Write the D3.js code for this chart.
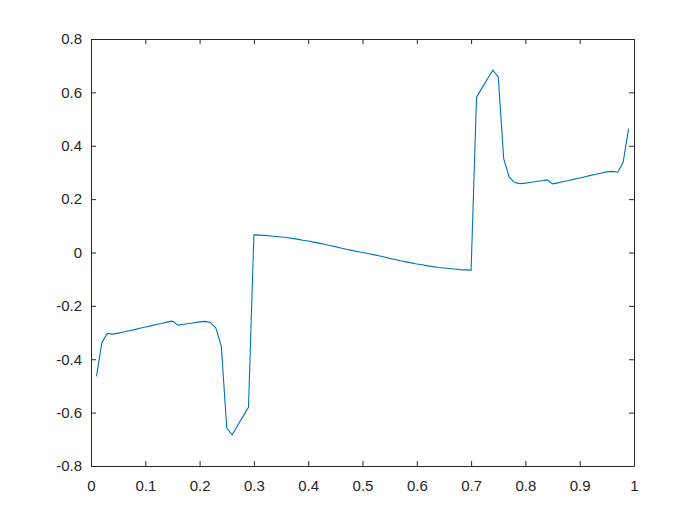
<!DOCTYPE html>
<html>
<head>
<meta charset="utf-8">
<script src="https://cdn.jsdelivr.net/npm/d3@7"></script>
<style>
  body { margin: 0; background: #fff; }
  svg { display: block; }
  .tick text { font-family: "Liberation Sans", Arial, sans-serif; font-size: 15px; fill: #262626; }
</style>
</head>
<body>
<script>
// data
var xs = [0.01,0.02,0.03,0.04,0.05,0.06,0.07,0.08,0.09,0.10,
          0.11,0.12,0.13,0.14,0.15,0.16,0.17,0.18,0.19,0.20,
          0.21,0.22,0.23,0.24,0.25,0.26,0.27,0.28,0.29,0.30,
          0.31,0.32,0.33,0.34,0.35,0.36,0.37,0.38,0.39,0.40,
          0.41,0.42,0.43,0.44,0.45,0.46,0.47,0.48,0.49,0.50,
          0.51,0.52,0.53,0.54,0.55,0.56,0.57,0.58,0.59,0.60,
          0.61,0.62,0.63,0.64,0.65,0.66,0.67,0.68,0.69,0.70,
          0.71,0.72,0.73,0.74,0.75,0.76,0.77,0.78,0.79,0.80,
          0.81,0.82,0.83,0.84,0.85,0.86,0.87,0.88,0.89,0.90,
          0.91,0.92,0.93,0.94,0.95,0.96,0.97,0.98,0.99];
var ys = [-0.464,-0.338,-0.303,-0.306,-0.302,-0.298,-0.293,-0.289,-0.284,-0.279,
          -0.275,-0.270,-0.266,-0.261,-0.257,-0.272,-0.269,-0.266,-0.263,-0.260,
          -0.258,-0.262,-0.283,-0.352,-0.658,-0.683,-0.648,-0.614,-0.580,0.066,
          0.065,0.064,0.062,0.060,0.058,0.056,0.053,0.050,0.046,0.043,
          0.039,0.035,0.031,0.026,0.022,0.017,0.012,0.008,0.004,0.000,
          -0.004,-0.008,-0.012,-0.017,-0.022,-0.026,-0.031,-0.035,-0.039,-0.043,
          -0.046,-0.050,-0.053,-0.056,-0.058,-0.060,-0.062,-0.064,-0.065,-0.066,
          0.582,0.616,0.650,0.683,0.658,0.352,0.283,0.262,0.258,0.260,
          0.263,0.266,0.269,0.272,0.257,0.261,0.266,0.270,0.275,0.279,
          0.284,0.289,0.293,0.298,0.302,0.304,0.301,0.338,0.464];

var xTicks = [0,0.1,0.2,0.3,0.4,0.5,0.6,0.7,0.8,0.9,1];
var yTicks = [-0.8,-0.6,-0.4,-0.2,0,0.2,0.4,0.6,0.8];

var W = 700, H = 525;
var margin = {top: 39, right: 66, bottom: 59, left: 91};
var width = W - margin.left - margin.right;
var height = H - margin.top - margin.bottom;

var svg = d3.select("body").append("svg")
    .attr("width", W)
    .attr("height", H);

var g = svg.append("g")
    .attr("transform", "translate(" + margin.left + "," + margin.top + ")");

var x = d3.scaleLinear().domain([0, 1]).range([0, width]);
var y = d3.scaleLinear().domain([-0.8, 0.8]).range([height, 0]);

var fmt = function(d){ return String(d); };

//bottom axis with labels, ticks inward
var xAxis = g.append("g")
    .attr("transform", "translate(0," + height + ")")
    .call(d3.axisBottom(x).tickValues(xTicks).tickFormat(fmt)
        .tickSizeInner(-5).tickSizeOuter(0).tickPadding(11));

//left axis
var yAxis = g.append("g")
    .call(d3.axisLeft(y).tickValues(yTicks).tickFormat(fmt)
        .tickSizeInner(-5).tickSizeOuter(0).tickPadding(9));

//top and right: box with ticks, no labels
var xTop = g.append("g")
    .call(d3.axisTop(x).tickValues(xTicks).tickFormat("")
        .tickSizeInner(-5).tickSizeOuter(0));
var yRight = g.append("g")
    .attr("transform", "translate(" + width + ",0)")
    .call(d3.axisRight(y).tickValues(yTicks).tickFormat("")
        .tickSizeInner(-5).tickSizeOuter(0));

g.selectAll(".domain").style("stroke", "#262626").style("stroke-width", 1);
g.selectAll(".tick line").style("stroke", "#262626");
xAxis.selectAll("text").attr("dy", "0.9em");

var line = d3.line()
    .x(function(d, i){ return x(xs[i]); })
    .y(function(d){ return y(d); });

g.append("path")
    .datum(ys)
    .attr("d", line)
    .style("fill", "none")
    .style("stroke", "#0072BD")
    .style("stroke-width", 1.1);
</script>
</body>
</html>
